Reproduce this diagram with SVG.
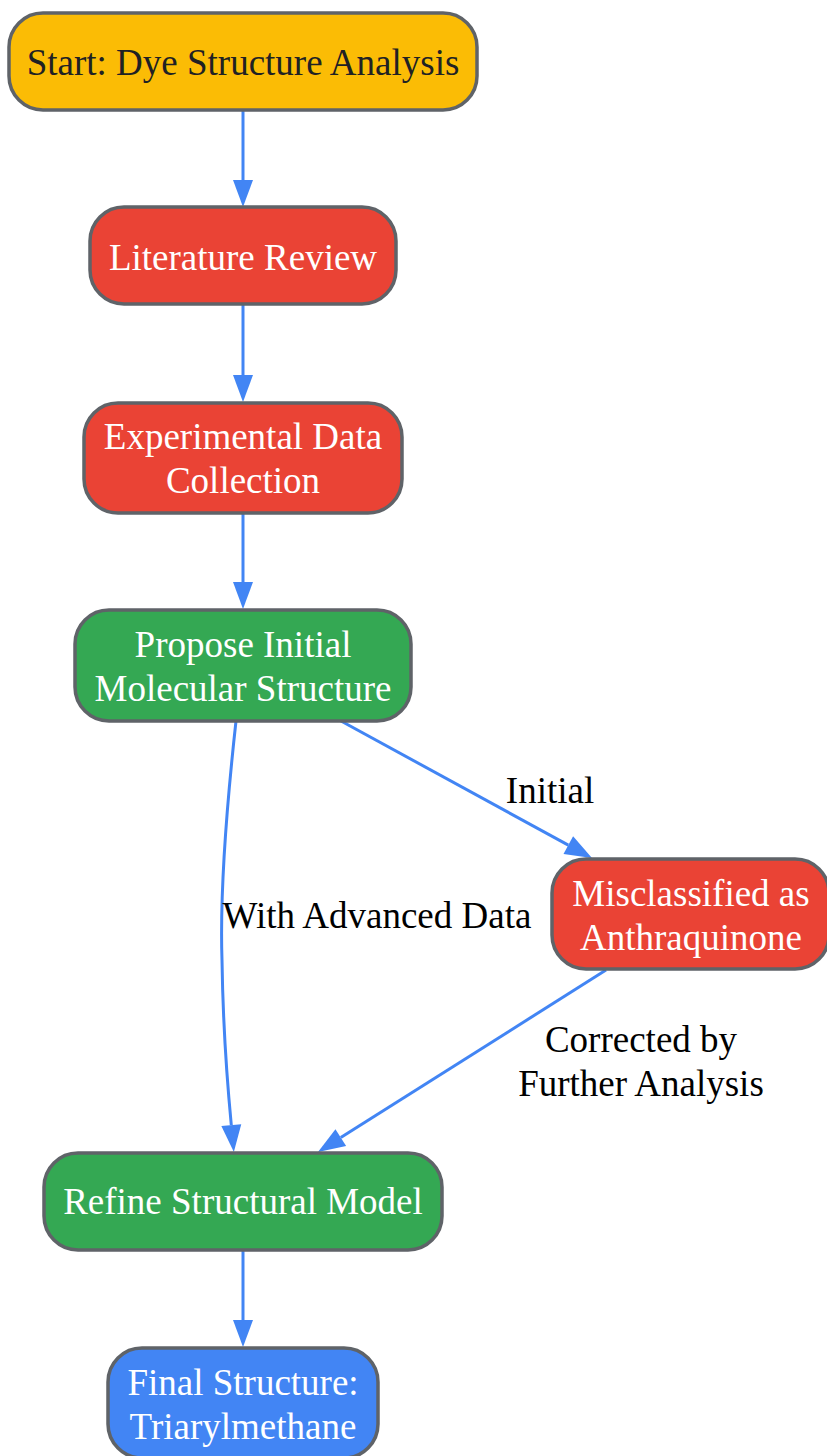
<svg xmlns="http://www.w3.org/2000/svg" width="827" height="1456" viewBox="0 0 827 1456">
<style>
.node rect{stroke:#5f6368;stroke-width:3.5}
.node text{font-family:"Liberation Serif","Times New Roman",serif;font-size:37px;text-anchor:middle;fill:#ffffff}
.yellow rect{fill:#fbbc05}
.yellow text{fill:#202124}
.red rect{fill:#ea4335}
.green rect{fill:#34a853}
.blue rect{fill:#4285f4}
.edges path{fill:none;stroke:#4285f4;stroke-width:3;marker-end:url(#arrow)}
.elabel{font-family:"Liberation Serif","Times New Roman",serif;font-size:37px;text-anchor:middle;fill:#000000}
</style>
<defs>
<marker id="arrow" markerUnits="userSpaceOnUse" markerWidth="28" markerHeight="20" refX="0" refY="10" orient="auto" overflow="visible">
<path d="M0,0 L27,10 L0,20 z" fill="#4285f4"/>
</marker>
</defs>
<rect width="827" height="1456" fill="#ffffff"/>
<g id="connectors" class="edges">
<path id="e1" d="M243,110 L243,180"/>
<path id="e2" d="M243,304 L243,375"/>
<path id="e3" d="M243,513 L243,582"/>
<path id="e4" d="M341,721 L568.3,845.1"/>
<path id="e5" d="M236,721 C224,830 220,900 222,960 C223,1030 227,1080 231.3,1125.1"/>
<path id="e6" d="M606,970 L340.8,1137.6"/>
<path id="e7" d="M243,1250 L243,1320"/>
</g>
<g id="edge-labels">
<text class="elabel" x="550" y="803">Initial</text>
<text class="elabel" x="377" y="928">With Advanced Data</text>
<text class="elabel" x="641" y="1052">Corrected by</text>
<text class="elabel" x="641" y="1096">Further Analysis</text>
</g>
<g id="start" class="node yellow">
<rect x="9" y="13" width="468" height="97" rx="34"/>
<text x="243" y="75">Start: Dye Structure Analysis</text>
</g>
<g id="literature" class="node red">
<rect x="90" y="207" width="306" height="97" rx="34"/>
<text x="243" y="270">Literature Review</text>
</g>
<g id="experimental" class="node red">
<rect x="84" y="403" width="318" height="110" rx="34"/>
<text x="243" y="449">Experimental Data</text>
<text x="243" y="493">Collection</text>
</g>
<g id="propose" class="node green">
<rect x="75" y="610" width="336" height="111" rx="34"/>
<text x="243" y="657">Propose Initial</text>
<text x="243" y="701">Molecular Structure</text>
</g>
<g id="misclassified" class="node red">
<rect x="552" y="859" width="277" height="110" rx="34"/>
<text x="691" y="906">Misclassified as</text>
<text x="691" y="950">Anthraquinone</text>
</g>
<g id="refine" class="node green">
<rect x="44" y="1153" width="398" height="97" rx="34"/>
<text x="243" y="1214">Refine Structural Model</text>
</g>
<g id="final" class="node blue">
<rect x="108" y="1348" width="270" height="110" rx="34"/>
<text x="243" y="1395">Final Structure:</text>
<text x="243" y="1439">Triarylmethane</text>
</g>
</svg>
